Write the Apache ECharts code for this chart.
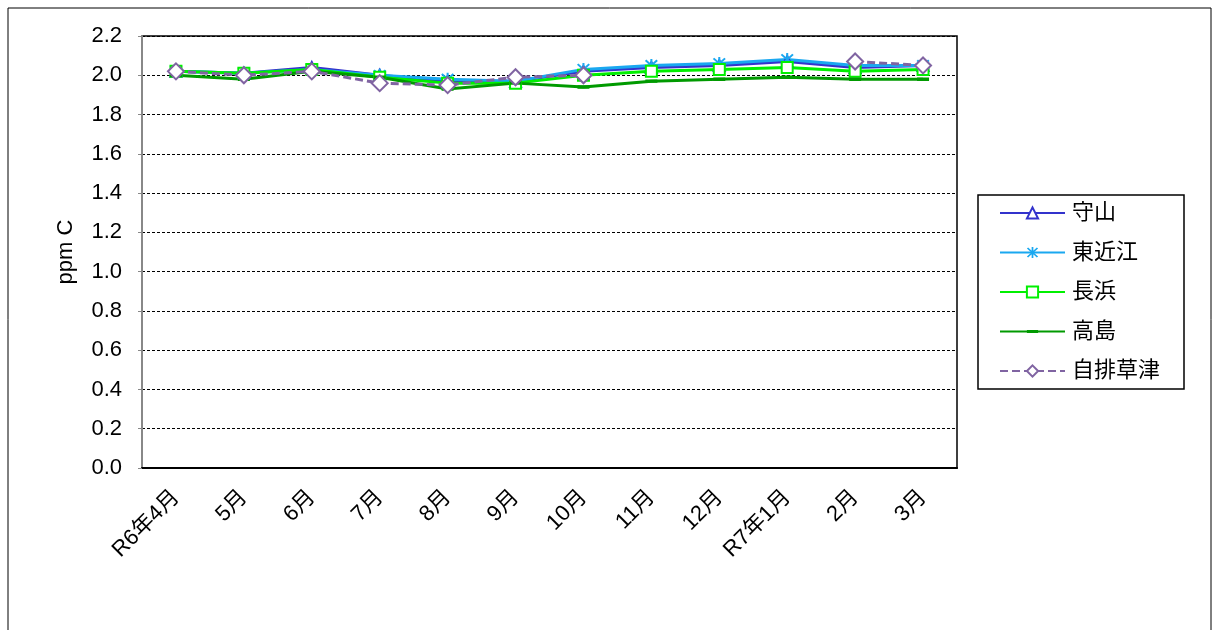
<!DOCTYPE html>
<html>
<head>
<meta charset="utf-8">
<script src="https://cdn.jsdelivr.net/npm/echarts@6/dist/echarts.min.js"></script>
<style>
  html, body { margin: 0; padding: 0; background: #fff; }
  #chart { width: 1213px; height: 630px; }
</style>
</head>
<body>
<div id="chart"></div>
<script>
// Monthly averages (ppm C), April R6 to March R7
const months = ['R6年4月', '5月', '6月', '7月', '8月', '9月', '10月', '11月', '12月', 'R7年1月', '2月', '3月'];
const yTicks = [0.0, 0.2, 0.4, 0.6, 0.8, 1.0, 1.2, 1.4, 1.6, 1.8, 2.0, 2.2];

const moriyama    = [2.02, 2.01, 2.04, 2.00, 1.97, 1.97, 2.02, 2.04, 2.05, 2.07, 2.04, 2.05];
const higashiomi  = [2.02, 2.01, 2.03, 2.00, 1.98, 1.97, 2.03, 2.05, 2.06, 2.08, 2.05, 2.05];
const nagahama    = [2.02, 2.01, 2.03, 1.99, 1.96, 1.96, 2.00, 2.02, 2.03, 2.04, 2.02, 2.03];
const takashima   = [2.00, 1.98, 2.02, 1.99, 1.93, 1.96, 1.94, 1.97, 1.98, 1.99, 1.98, 1.98];
const jihaiKusatsu = [2.02, 2.00, 2.02, 1.96, 1.95, 1.99, 2.00, null, null, null, 2.07, 2.05];

const FONT = "'Liberation Sans', Arial, 'Noto Sans CJK JP', sans-serif";
const FS = 22;
const asterisk = 'path://M4.3 0 L5.7 0 L5.7 10 L4.3 10 Z M0.5 1.5 L1.5 0.5 L9.5 8.5 L8.5 9.5 Z M8.5 0.5 L9.5 1.5 L1.5 9.5 L0.5 8.5 Z';
// short horizontal dash inside a square box (tiny corner points keep the box square)
const dash = 'path://M5 0 L5.01 0 L5.01 0.01 Z M5 10 L5.01 10 L5.01 9.99 Z M0 3.6 L10 3.6 L10 6.4 L0 6.4 Z';

function lineSeries(name, data, color, symbol, size, extra) {
  return Object.assign({
    name: name,
    type: 'line',
    data: data,
    symbol: symbol,
    symbolSize: size,
    connectNulls: false,
    lineStyle: { color: color, width: 3 },
    itemStyle: { color: color, borderColor: color, borderWidth: 2.2 },
    emphasis: { disabled: true }
  }, extra || {});
}

const chart = echarts.init(document.getElementById('chart'), null, { renderer: 'canvas' });
chart.setOption({
  animation: false,
  backgroundColor: '#ffffff',
  textStyle: { fontFamily: FONT },
  graphic: [{
    type: 'rect',
    shape: { x: 8, y: 8, width: 1203, height: 640 },
    style: { fill: 'none', stroke: '#000', lineWidth: 1 },
    silent: true
  }],
  grid: {
    left: 142, right: 256, top: 36, bottom: 162,
    show: true, borderColor: '#000', borderWidth: 1.5, backgroundColor: 'transparent'
  },
  legend: {
    orient: 'vertical',
    left: 978, top: 195,
    width: 206,
    padding: [7, 24, 7, 21],
    itemGap: 17.5,
    itemWidth: 65, itemHeight: 14,
    borderColor: '#000', borderWidth: 1.5,
    textStyle: { fontSize: FS, color: '#000', fontFamily: FONT, padding: [0, 0, 0, 2] },
    data: ['守山', '東近江', '長浜', '高島', '自排草津']
  },
  xAxis: {
    type: 'category',
    data: months,
    boundaryGap: true,
    axisLine: { lineStyle: { color: '#000', width: 2 } },
    axisTick: { show: false },
    axisLabel: { rotate: 45, fontSize: FS, color: '#000', margin: 26, interval: 0, fontFamily: FONT },
    splitLine: { show: false }
  },
  yAxis: {
    type: 'value',
    min: yTicks[0], max: yTicks[yTicks.length - 1], interval: 0.2,
    name: 'ppm C',
    nameLocation: 'middle',
    nameGap: 65,
    nameTextStyle: { fontSize: FS, color: '#000', fontFamily: FONT },
    axisLine: { show: true, lineStyle: { color: '#888', width: 2 } },
    axisTick: { show: true, length: 4, lineStyle: { color: '#888' } },
    axisLabel: { fontSize: FS, color: '#000', margin: 20, formatter: v => v.toFixed(1), fontFamily: FONT },
    splitLine: { show: true, lineStyle: { color: '#000', type: [3, 2], width: 1 } }
  },
  series: [
    lineSeries('守山', moriyama, '#3333cc', 'emptyTriangle', 11),
    lineSeries('東近江', higashiomi, '#1aa8f0', asterisk, 13, { itemStyle: { color: '#1aa8f0', borderWidth: 0 } }),
    lineSeries('長浜', nagahama, '#00f000', 'emptyRect', 11),
    lineSeries('高島', takashima, '#009a00', dash, 12, { itemStyle: { color: '#009a00', borderWidth: 0 } }),
    lineSeries('自排草津', jihaiKusatsu, '#8064a2', 'emptyDiamond', 16, {
      lineStyle: { color: '#8064a2', width: 3, type: [8, 4] }
    })
  ]
});
</script>
</body>
</html>
